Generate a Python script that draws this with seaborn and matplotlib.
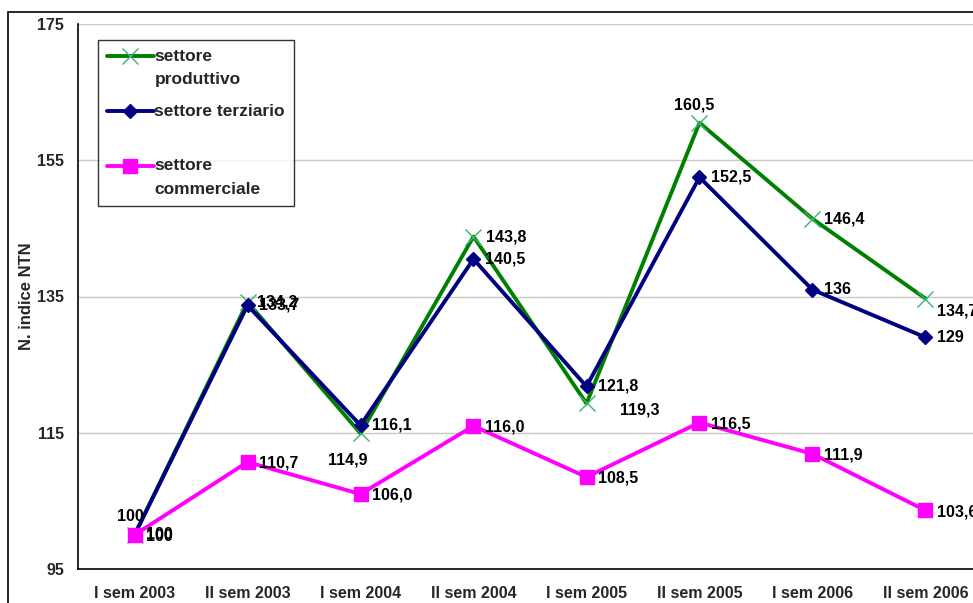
import numpy as np
import pandas as pd
import matplotlib.pyplot as plt
import matplotlib.patches as mpatches
from matplotlib.transforms import Affine2D
import seaborn as sns

periodi = ["I sem 2003", "II sem 2003", "I sem 2004", "II sem 2004",
           "I sem 2005", "II sem 2005", "I sem 2006", "II sem 2006"]
produttivo = [100, 134.2, 114.9, 143.8, 119.3, 160.5, 146.4, 134.7]
terziario = [100, 133.7, 116.1, 140.5, 121.8, 152.5, 136, 129]
commerciale = [100, 110.7, 106.0, 116.0, 108.5, 116.5, 111.9, 103.6]
lab_produttivo = ["100", "134,2", "114,9", "143,8", "119,3", "160,5", "146,4", "134,7"]
lab_terziario = ["100", "133,7", "116,1", "140,5", "121,8", "152,5", "136", "129"]
lab_commerciale = ["100", "110,7", "106,0", "116,0", "108,5", "116,5", "111,9", "103,6"]

sns.set_style("white")
plt.rcParams["font.family"] = ["Liberation Sans", "DejaVu Sans"]
plt.rcParams["font.weight"] = "bold"

fig = plt.figure(figsize=(9.73, 6.03), dpi=100)
# outer frame of the original chart (partly cut off)
fig.patches.append(mpatches.Rectangle((8 / 973, -0.1), 1.2, 1.1 - 12 / 603,
                                      transform=fig.transFigure, fill=False,
                                      edgecolor="black", linewidth=1.2))
ax = fig.add_axes([78 / 973, 1 - 569 / 603, 904 / 973, (569 - 24) / 603])

x = np.arange(len(periodi))
serie = [
    ("settore\nproduttivo", produttivo, "#008000", "x", 11),
    ("settore terziario\n ", terziario, "#000080", "D", 7.5),
    ("settore\ncommerciale", commerciale, "#FF00FF", "s", 10),
]

for nome, vals, col, mk, ms in serie:
    df = pd.DataFrame({"x": x, "y": vals})
    sns.lineplot(data=df, x="x", y="y", ax=ax, color=col, linewidth=2.8,
                 marker=mk, markersize=ms, markeredgewidth=1.0,
                 markeredgecolor=col if mk != "x" else "#3CB371",
                 label=nome)

fs = 11.5
# label offsets in points
off_prod = [(-3, 13, "center"), (7, 0, "left"), (-9, -19, "center"), (9, 0, "left"),
            (24, -5, "left"), (-4, 13, "center"), (8, 0, "left"), (8, -9, "left")]
for i in x:
    dx, dy, ha = off_prod[i]
    ax.annotate(lab_produttivo[i], (i, produttivo[i]), xytext=(dx, dy),
                textcoords="offset points", ha=ha, va="center", fontsize=fs,
                fontweight="bold", color="black")
    ax.annotate(lab_terziario[i], (i, terziario[i]), xytext=(8, 0),
                textcoords="offset points", ha="left", va="center", fontsize=fs,
                fontweight="bold", color="black")
    ax.annotate(lab_commerciale[i], (i, commerciale[i]), xytext=(8, -1),
                textcoords="offset points", ha="left", va="center", fontsize=fs,
                fontweight="bold", color="black")

ax.set_xlim(-0.5, 7.5)
ax.set_ylim(95, 175)
ax.set_yticks([95, 115, 135, 155, 175])
ax.set_xticks(x)
ax.set_xticklabels(periodi, fontsize=fs, fontweight="bold")
ax.set_xticks(np.arange(-0.5, 8, 1), minor=True)
ax.tick_params(axis="x", which="major", length=0, pad=12)
ax.tick_params(axis="x", which="minor", length=6, width=1, direction="out", color="black")
ax.tick_params(axis="y", length=7, width=1, direction="out", color="black",
               labelsize=fs, pad=3)
for t in ax.get_yticklabels():
    t.set_fontweight("bold")
ax.yaxis.grid(True, color="#c8c8c8", linewidth=1)
ax.set_axisbelow(True)
for s in ["top", "right"]:
    ax.spines[s].set_visible(False)
for s in ["left", "bottom"]:
    ax.spines[s].set_color("black")
    ax.spines[s].set_linewidth(1.2)
ax.set_xlabel("")
ax.set_ylabel("N. indice NTN", fontsize=12, fontweight="bold", labelpad=2)

leg = ax.legend(loc="upper left", bbox_to_anchor=(98 / 973, 1 - 40 / 603),
                bbox_transform=fig.transFigure, frameon=True, fancybox=False,
                edgecolor="black", fontsize=12.5, handlelength=2.7,
                handletextpad=0.05, labelspacing=0.95, borderpad=0.5,
                borderaxespad=0)
leg.get_frame().set_linewidth(1.0)
for t in leg.get_texts():
    t.set_fontweight("bold")
    t.set_linespacing(1.7)
# handles sit on the first text line, as in the original
for h in leg.legend_handles:
    h.set_transform(h.get_transform() + Affine2D().translate(0, 12))

fig.savefig("out.png", dpi=100)
